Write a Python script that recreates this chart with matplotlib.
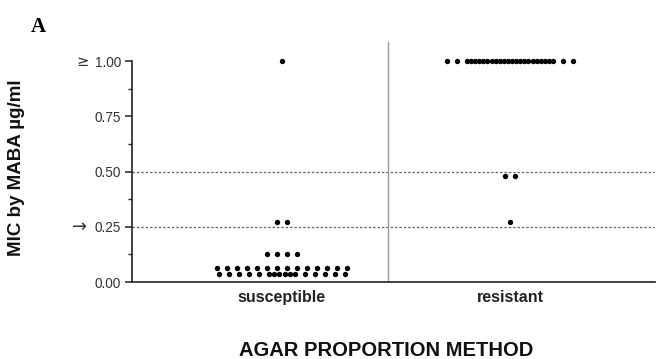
import matplotlib
matplotlib.use("Agg")
import matplotlib.pyplot as plt
import numpy as np

# ---- data ----
categories = ["susceptible", "resistant"]
susceptible_mic = [1.00] + [0.27] * 2 + [0.125] * 4 + [0.0625] * 14 + [0.035] * 16
resistant_mic = [1.00] * 26 + [0.48] * 2 + [0.27]
y_ticks = [0.0, 0.25, 0.5, 0.75, 1.0]
y_tick_labels = ["0.00", "0.25", "0.50", "0.75", "1.00"]
y_tick_prefix = {0.25: "\u2192", 1.0: "\u2265"}
ref_lines = [0.25, 0.5]

plt.rcParams["font.family"] = ["Liberation Sans", "DejaVu Sans"]

W, H = 658, 359
fig = plt.figure(figsize=(W / 100, H / 100), dpi=100)
ax = fig.add_axes([132 / W, (H - 282) / H, (655 - 132) / W, (282 - 42) / H])

xmin, xmax = -0.658, 1.636
ax.set_xlim(xmin, xmax)
ax.set_ylim(0, 1.086)

px_per_unit = (655 - 132) / (xmax - xmin)
step = 10 / px_per_unit
max_w = 126 / px_per_unit
crowded = {("susceptible", 0.035): 5, ("resistant", 1.0): 2}


def row_offsets(n, k=None):
    if k is None or (n - 1) * step <= max_w:
        return (np.arange(n) - (n - 1) / 2) * step
    left = -max_w / 2
    outer_l = left + np.arange(k) * step
    outer_r = -outer_l[::-1]
    lo = left + k * step
    inner = np.linspace(lo, -lo, n - 2 * k)
    return np.concatenate([outer_l, inner, outer_r])


for ci, (cat, vals) in enumerate(zip(categories, [susceptible_mic, resistant_mic])):
    vals = np.array(vals)
    for v in np.unique(vals):
        n = int(np.sum(vals == v))
        k = crowded.get((cat, round(float(v), 4)))
        xs = ci + row_offsets(n, k)
        ax.scatter(xs, np.full(n, v), s=15, color="black", zorder=3,
                   clip_on=False, linewidths=0)

for yl in ref_lines:
    ax.axhline(yl, color="#666666", lw=0.9, ls=(0, (2, 1.5)), zorder=1)

ax.axvline(0.465, color="#999999", lw=1.0, zorder=1)

for s in ["top", "right"]:
    ax.spines[s].set_visible(False)
ax.spines["left"].set_bounds(0, 1.0)
ax.spines["left"].set_color("#222222")
ax.spines["bottom"].set_color("#222222")
ax.spines["left"].set_linewidth(1.2)
ax.spines["bottom"].set_linewidth(1.2)

ax.set_yticks(y_ticks)
ax.set_yticklabels(y_tick_labels, color="#333333", fontsize=9.8)
ax.set_yticks([0.125, 0.375, 0.625, 0.875], minor=True)
ax.tick_params(axis="y", which="major", length=5, width=1.1, color="#222222", pad=3)
ax.tick_params(axis="y", which="minor", length=3, width=1.0, color="#222222")

for val, sym in y_tick_prefix.items():
    off = -32.0 if sym == "\u2192" else -31.0
    ax.annotate(sym, xy=(0, val), xycoords=("axes fraction", "data"),
                xytext=(off, 0), textcoords="offset points", ha="right",
                va="center", fontsize=13 if sym == "\u2192" else 10.5,
                family=["DejaVu Sans"], color="#333333", annotation_clip=False)

ax.set_xticks([0, 1])
ax.set_xticklabels(categories, fontsize=11.5, fontweight="bold", color="#222222")
ax.tick_params(axis="x", length=0, pad=6)

fig.text(17 / W, 1 - 168 / H, "MIC by MABA \u00b5g/ml", rotation=90, ha="center",
         va="center", fontsize=13.5, fontweight="bold", color="#111111")
fig.text(386 / W, 1 - 350 / H, "AGAR PROPORTION METHOD", ha="center", va="center",
         fontsize=14.5, fontweight="bold", color="#111111")
fig.text(38 / W, 1 - 27 / H, "A", ha="center", va="center", fontsize=15,
         fontweight="bold", family=["Liberation Serif", "DejaVu Serif"])

fig.savefig("out.png", dpi=100)
